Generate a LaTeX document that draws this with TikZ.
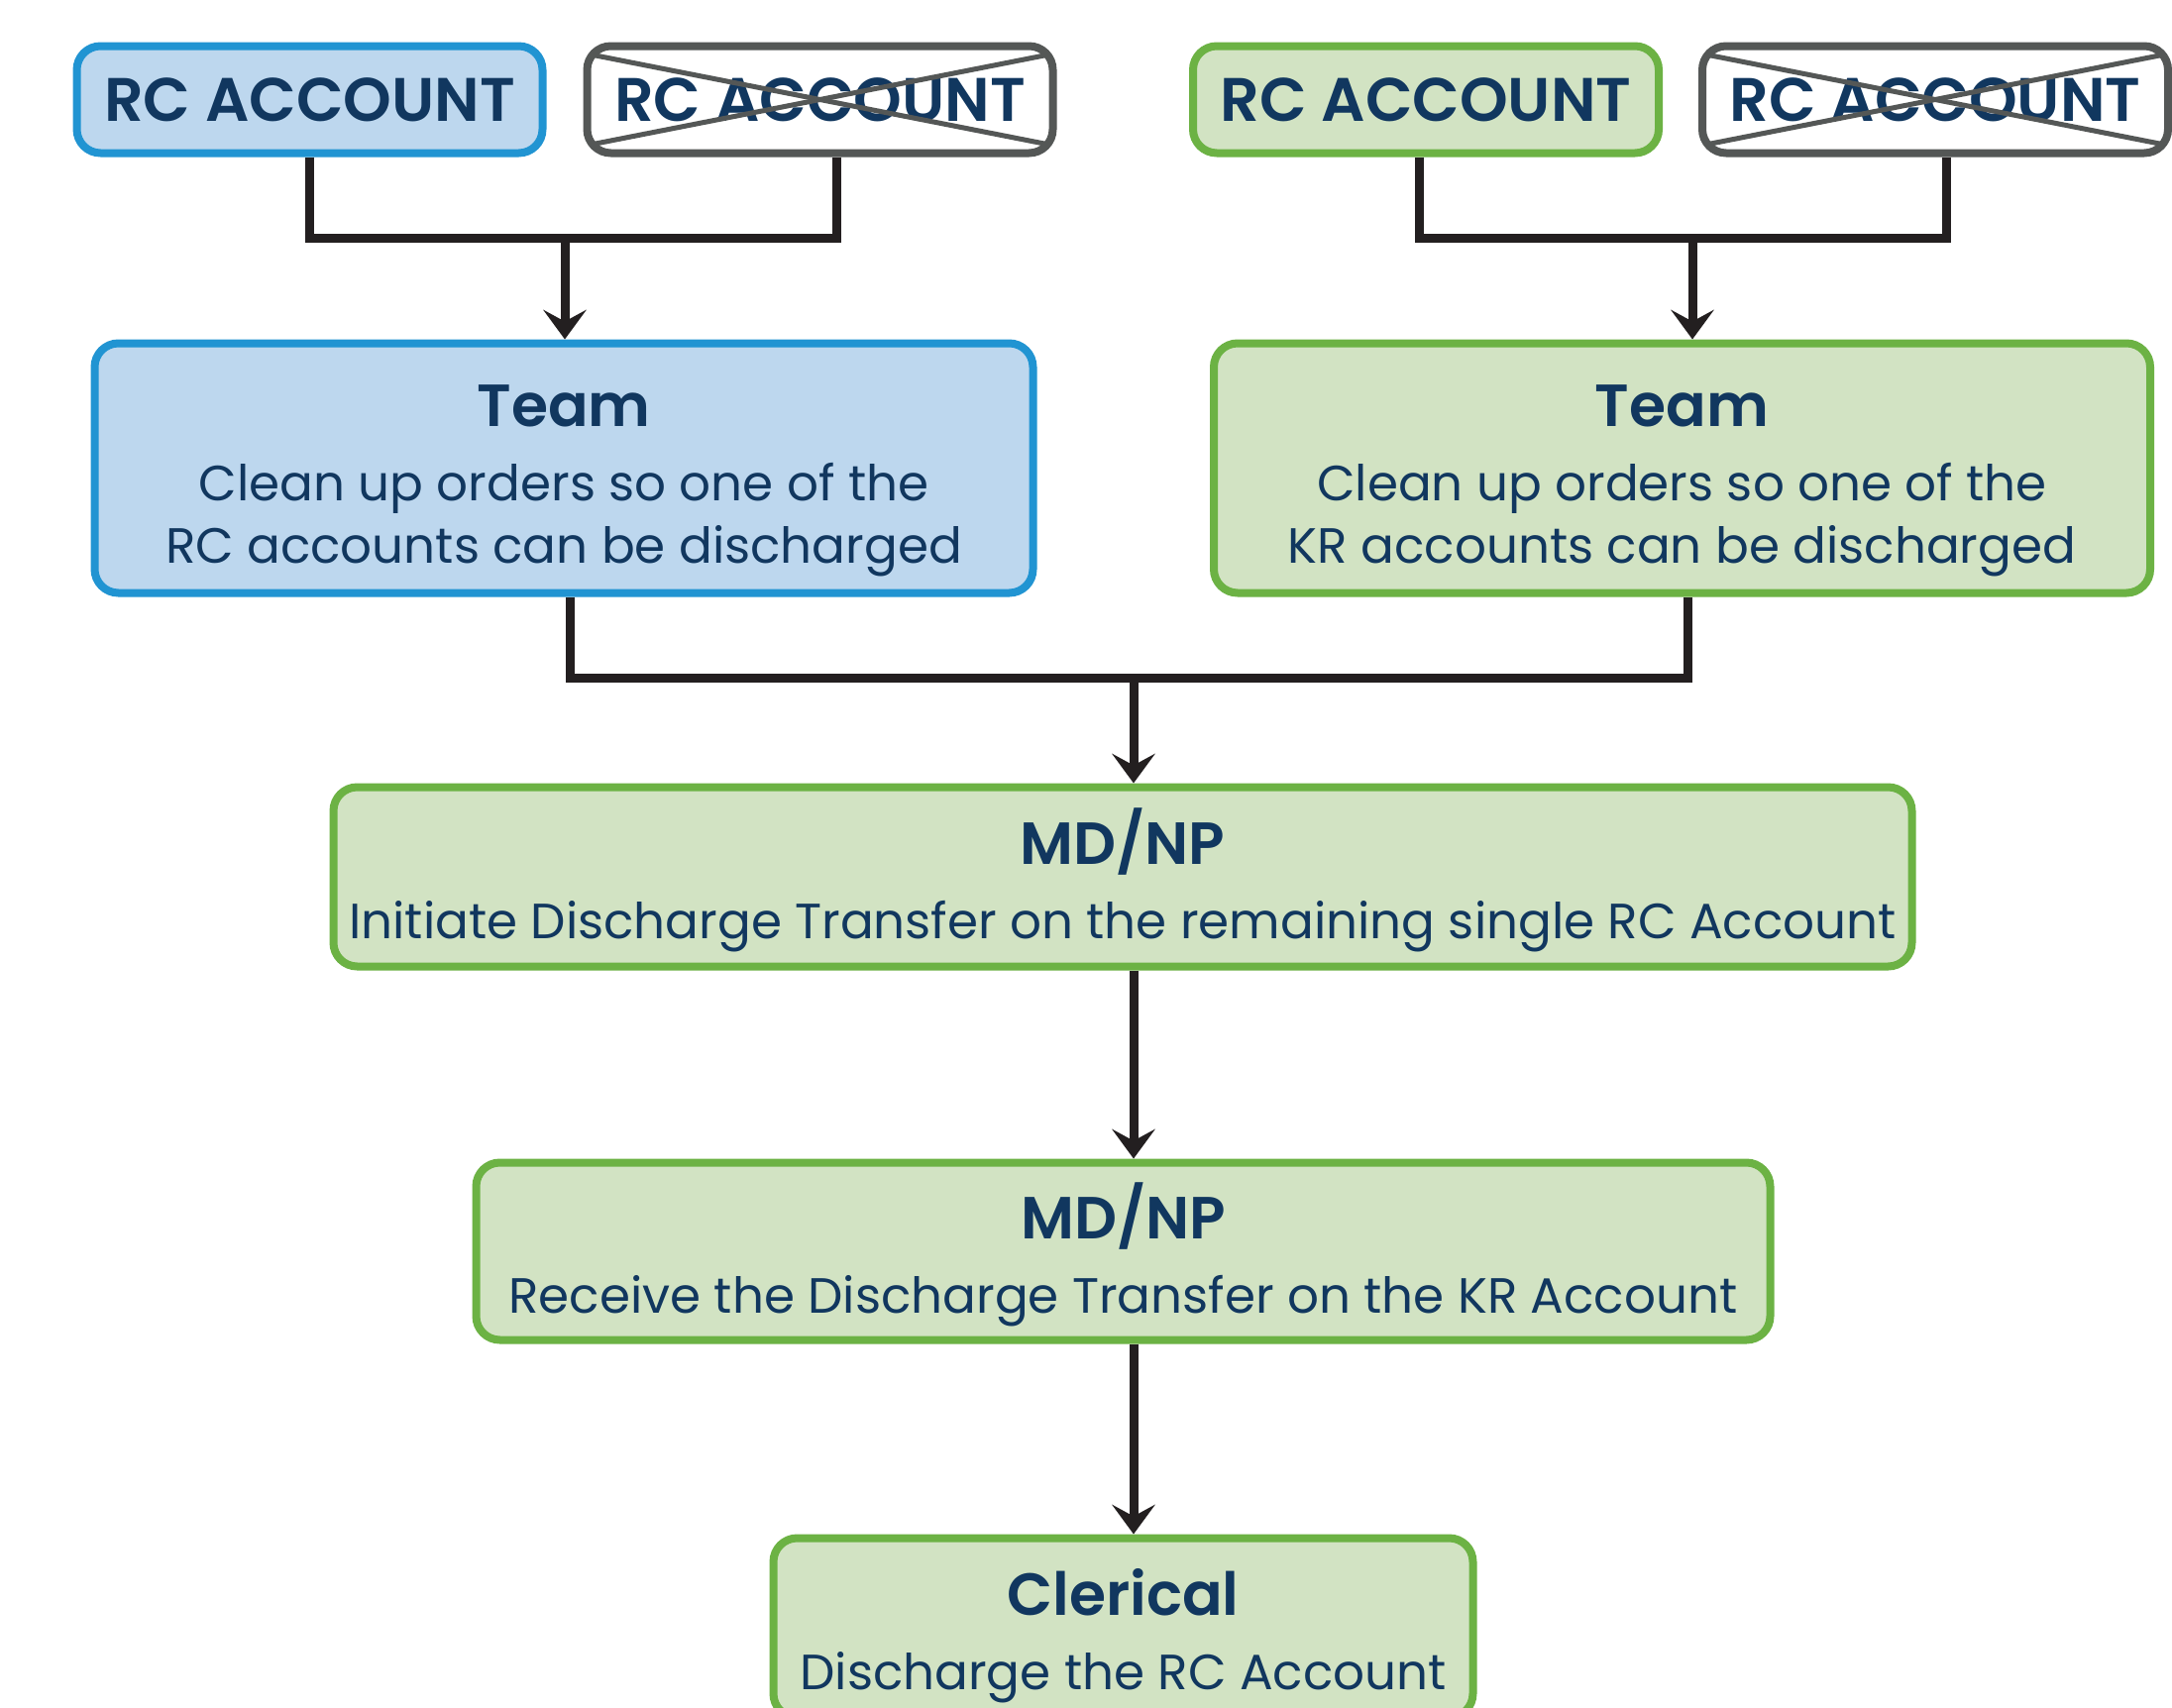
\documentclass[tikz,border=0pt]{standalone}
\usepackage{fontspec}
\setmainfont{Poppins}[BoldFont={Poppins SemiBold}]
\usetikzlibrary{arrows.meta,calc}
\definecolor{bfill}{HTML}{BDD7EE}
\definecolor{bstroke}{HTML}{2194D2}
\definecolor{gfill}{HTML}{D2E3C3}
\definecolor{gstroke}{HTML}{6CB244}
\definecolor{xgray}{HTML}{545756}
\definecolor{navy}{HTML}{11375F}
\definecolor{lineblack}{HTML}{231F20}
\newcommand\ttlfont{\fontsize{30}{36}\selectfont\bfseries}
\newcommand\acctfont{\fontsize{31}{36}\selectfont\bfseries}
\newcommand\bodyfont{\fontsize{25}{31.5}\selectfont}
\newcommand\topstrut[1]{\rule{0pt}{#1}}
\newcommand\botstrut{\rule[-10pt]{0pt}{10pt}}
\begin{document}
\begin{tikzpicture}[x=0.5pt,y=-0.5pt,
  box/.style={draw, rounded corners=12pt, line width=4pt, text=navy, align=center, inner sep=0pt, font=\bodyfont},
  bluebox/.style={box, draw=bstroke, fill=bfill},
  greenbox/.style={box, draw=gstroke, fill=gfill},
  xbox/.style={box, draw=xgray, fill=white},
  acct/.style={minimum width=235pt, minimum height=54pt, font=\acctfont},
  conn/.style={draw=lineblack, line width=4.5pt},
  arr/.style={conn, -{Stealth[length=15pt,width=22pt,inset=6pt,line width=0pt]}},
  crossline/.style={draw=xgray, line width=2.5pt}]
\clip (0,0) rectangle (2192,1724);
\fill[white] (0,0) rectangle (2192,1724);

% top account boxes
\node[bluebox, acct] (a1) at (312.5,100.5) {RC ACCOUNT};
\node[xbox, acct] (a2) at (827.5,100.5) {RC ACCOUNT};
\node[greenbox, acct] (b1) at (1439,100.5) {RC ACCOUNT};
\node[xbox, acct] (b2) at (1953,100.5) {RC ACCOUNT};

\draw[crossline] ([xshift=3.75pt,yshift=-6.25pt]a2.north west) -- ([xshift=-3.75pt,yshift=6.25pt]a2.south east);
\draw[crossline] ([xshift=3.75pt,yshift=6.25pt]a2.south west) -- ([xshift=-3.75pt,yshift=-6.25pt]a2.north east);
\draw[crossline] ([xshift=3.75pt,yshift=-6.25pt]b2.north west) -- ([xshift=-3.75pt,yshift=6.25pt]b2.south east);
\draw[crossline] ([xshift=3.75pt,yshift=6.25pt]b2.south west) -- ([xshift=-3.75pt,yshift=-6.25pt]b2.north east);

% team boxes
\node[bluebox, minimum width=473.5pt, minimum height=126pt] (t1) at (569,472.5)
  {\topstrut{36.5pt}{\ttlfont Team}\\[6pt]Clean up orders so one of the\\RC accounts can be discharged\botstrut};
\node[greenbox, minimum width=472.5pt, minimum height=126pt] (t2) at (1697.5,472.5)
  {\topstrut{36.5pt}{\ttlfont Team}\\[6pt]Clean up orders so one of the\\KR accounts can be discharged\botstrut};

% MD/NP and clerical
\node[greenbox, minimum width=796.5pt, minimum height=90.5pt] (m1) at (1133,885)
  {\topstrut{35pt}{\ttlfont MD/NP}\\[6pt]Initiate Discharge Transfer on the remaining single RC Account\botstrut};
\node[greenbox, minimum width=653pt, minimum height=89.5pt] (m2) at (1133.5,1263)
  {\topstrut{35pt}{\ttlfont MD/NP}\\[6pt]Receive the Discharge Transfer on the KR Account\botstrut};
\node[greenbox, minimum width=353pt, minimum height=90.5pt] (c) at (1133.5,1643)
  {\topstrut{35pt}{\ttlfont Clerical}\\[6pt]Discharge the RC Account\botstrut};

% connectors, top-left
\coordinate (ja) at (570,240);
\coordinate (a2x) at ([xshift=8.25pt]a2.south);
\draw[conn] (a1.south) |- (ja) -| (a2x);
\draw[arr] (ja) -- (ja |- t1.north);

% connectors, top-right
\coordinate (jb) at (1708,240);
\coordinate (b1x) at ([xshift=-3.5pt]b1.south);
\coordinate (b2x) at ([xshift=5.5pt]b2.south);
\draw[conn] (b1x) |- (jb) -| (b2x);
\draw[arr] (jb) -- (jb |- t2.north);

% connectors, middle
\coordinate (jc) at (1144,684);
\coordinate (t1x) at ([xshift=3pt]t1.south);
\coordinate (t2x) at ([xshift=2.75pt]t2.south);
\draw[conn] (t1x) |- (jc) -| (t2x);
\draw[arr] (jc) -- (jc |- m1.north);
\draw[arr] (jc |- m1.south) -- (jc |- m2.north);
\draw[arr] (jc |- m2.south) -- (jc |- c.north);
\end{tikzpicture}
\end{document}
